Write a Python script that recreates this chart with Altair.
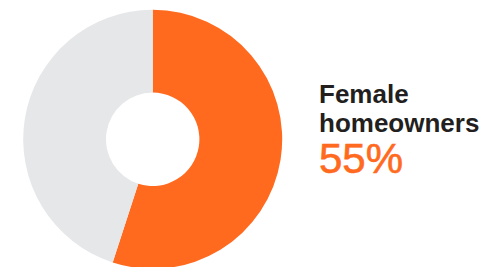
import altair as alt
import pandas as pd

categories = ["Female homeowners", "Other"]
values = [55, 45]
colors = ["#FF6A1F", "#E6E7E9"]
title_lines = ["Female", "homeowners"]
pct_text = ["55%"]

df = pd.DataFrame({"cat": categories, "val": values, "ord": [0, 1]})

cx, cy = 144.7, 131.3

arc = alt.Chart(df).mark_arc(outerRadius=129.5, innerRadius=46.7, stroke=None).encode(
    theta=alt.Theta("val:Q", stack=True),
    order=alt.Order("ord:Q"),
    color=alt.Color("cat:N", scale=alt.Scale(domain=categories, range=colors), legend=None),
    x=alt.value(cx),
    y=alt.value(cy),
)

t1 = alt.Chart(pd.DataFrame({"t": [title_lines[0]]})).mark_text(
    align="left", baseline="alphabetic", font="Liberation Sans", fontWeight="bold",
    fontSize=26, color="#231F20"
).encode(text="t:N", x=alt.value(311), y=alt.value(95.3))

t2 = alt.Chart(pd.DataFrame({"t": [title_lines[1]]})).mark_text(
    align="left", baseline="alphabetic", font="Liberation Sans", fontWeight="bold",
    fontSize=26, color="#231F20"
).encode(text="t:N", x=alt.value(311), y=alt.value(123.7))

t3 = alt.Chart(pd.DataFrame({"t": pct_text})).mark_text(
    align="left", baseline="alphabetic", font="Liberation Sans",
    fontSize=42, color="#FF6A1F", stroke="#FF6A1F", strokeWidth=0.6
).encode(text="t:N", x=alt.value(311), y=alt.value(164.7))

chart = alt.layer(arc, t1, t2, t3).properties(
    width=471, height=259, autosize=alt.AutoSizeParams(type="none"), padding=0
).configure_view(stroke=None)

chart.save("out.html", embed_options={"renderer": "svg", "actions": False})
